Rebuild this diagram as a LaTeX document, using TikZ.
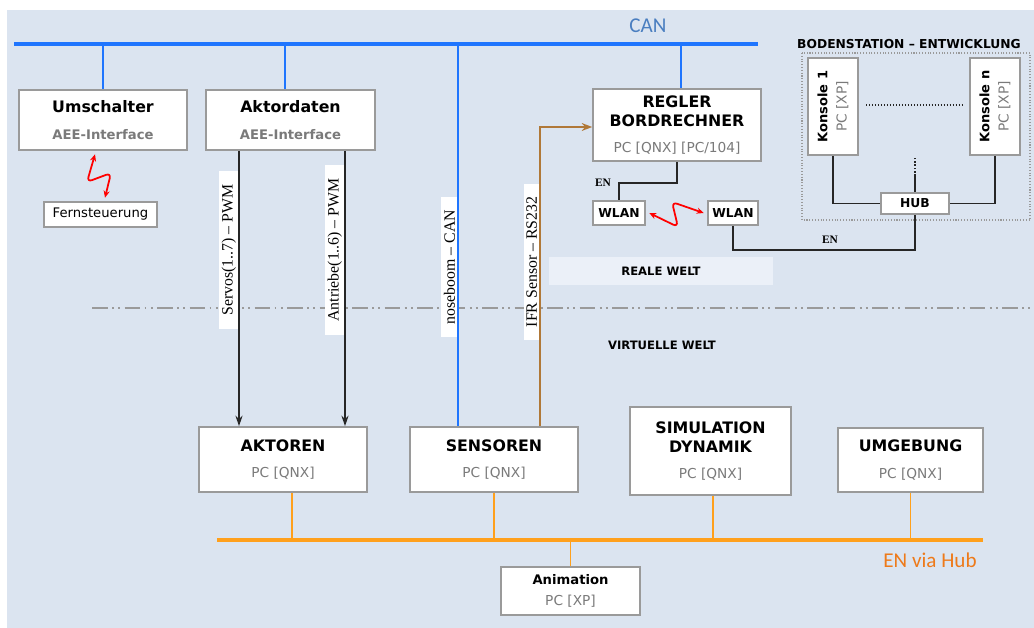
\documentclass[tikz,border=0pt]{standalone}
\usepackage{fontspec}
\setmainfont{DejaVu Sans}
\newfontfamily\wirefont{Liberation Serif}
\newfontfamily\busfont{Carlito}
\usetikzlibrary{arrows.meta}

\definecolor{bgblue}{HTML}{DBE4F0}
\definecolor{bandblue}{HTML}{EBF0F8}
\definecolor{canblue}{HTML}{1F75FE}
\definecolor{cantext}{HTML}{4A7EC0}
\definecolor{enorange}{HTML}{FFA01C}
\definecolor{entext}{HTML}{EE7A1A}
\definecolor{rsbrown}{HTML}{B07838}
\definecolor{boxgray}{HTML}{9A9A9A}
\definecolor{subgray}{HTML}{7A7A7A}

% grey second line inside the boxes
\newcommand{\pcline}[1]{{\mdseries\color{subgray}\fontsize{7.8}{9}\selectfont #1}}
\newcommand{\aeeline}[1]{{\color{subgray}\fontsize{7.5}{9}\selectfont #1}}

\begin{document}
\begin{tikzpicture}[x=0.02cm,y=-0.02cm]
\tikzset{
	box/.style={draw=boxgray,
		fill=white,
		line width=0.9pt,
		inner sep=0pt,
		align=center,
		font=\bfseries\fontsize{9}{11}\selectfont},
	smallbox/.style={box, font=\bfseries\fontsize{7}{9}\selectfont},
	wirelabel/.style={fill=white, rotate=90, anchor=south,
		inner xsep=7.5pt, inner ysep=1.5pt,
		font=\wirefont\fontsize{9}{10}\selectfont},
	canline/.style={draw=canblue, line width=1.2pt},
	canbus/.style={draw=canblue, line width=2.8pt},
	enline/.style={draw=enorange, line width=1pt},
	enbus/.style={draw=enorange, line width=2.8pt},
	wire/.style={draw=black!85, line width=0.9pt},
	sigarrow/.style={wire, -{Stealth[length=6pt,width=4pt]}},
	radio/.style={draw=red, line width=1pt, rounded corners=3pt,
		{Stealth[length=4pt,width=3.5pt]}-{Stealth[length=4pt,width=3.5pt]}},
	enlabel/.style={font=\wirefont\bfseries\fontsize{6.5}{8}\selectfont},
	worldlabel/.style={font=\bfseries\fontsize{6.6}{8}\selectfont}
}

\useasboundingbox (0,0) rectangle (1034,628);
\fill[bgblue] (7,10) rectangle (1034,628);

% border between real and virtual world
\draw[boxgray, line width=0.9pt, dash pattern=on 9pt off 2.5pt on 1pt off 2.5pt on 1pt off 2.5pt] (92,308) -- (1034,308);
\node[fill=bandblue, minimum width=4.48cm, minimum height=0.56cm, worldlabel] (reale) at (661,271) {REALE WELT};
\node[worldlabel] (virtuell) at (662,345) {VIRTUELLE WELT};

% CAN bus
\coordinate (canL) at (14,44);
\coordinate (canR) at (758,44);
\draw[canbus] (canL) -- (canR);
\node[font=\busfont\fontsize{12}{14}\selectfont, text=cantext] (canlbl) at (648,26) {CAN};

% EN bus
\coordinate (enL) at (217,540);
\coordinate (enR) at (983,540);
\draw[enbus] (enL) -- (enR);
\node[font=\busfont\fontsize{12}{14}\selectfont, text=entext] (enlbl) at (930,560) {EN via Hub};

% labels on the vertical wires
\node[wirelabel] (servolbl) at (239,250) {Servos(1..7) – PWM};
\node[wirelabel] (antrieblbl) at (345,250) {Antriebe(1..6) – PWM};
\node[wirelabel] (noselbl) at (458,267) {noseboom – CAN};
\node[wirelabel] (ifrlbl) at (540,262) {IFR Sensor – RS232};

% CAN drops
\draw[canline] (103,44) -- (103,92);
\draw[canline] (285,44) -- (285,92);
\draw[canline] (681,44) -- (681,91);
\draw[canline] (458,44) -- (458,429);

% boxes on board
\node[box, minimum width=3.36cm, minimum height=1.2cm] (umschalter) at (103,120) {Umschalter\\[4pt]\aeeline{AEE-Interface}};
\node[box, minimum width=3.38cm, minimum height=1.2cm] (aktordaten) at (290.5,120) {Aktordaten\\[4pt]\aeeline{AEE-Interface}};
\node[box, font=\fontsize{7.5}{9}\selectfont, minimum width=2.26cm, minimum height=0.5cm] (fernst) at (100.5,214.5) {Fernsteuerung};
\node[box, minimum width=3.36cm, minimum height=1.44cm] (regler) at (677,125) {REGLER\\BORDRECHNER\\[4pt]\pcline{PC [QNX] [PC/104]}};
\node[smallbox, minimum width=1.04cm, minimum height=0.48cm] (wlanA) at (619,213) {WLAN};
\node[smallbox, minimum width=1.0cm, minimum height=0.48cm] (wlanB) at (733,213) {WLAN};

% ground station
\draw[boxgray, densely dotted, line width=0.6pt] (802,53) rectangle (1030,220);
\node[font=\bfseries\fontsize{7}{9}\selectfont] (bodenlbl) at (909,44) {BODENSTATION – ENTWICKLUNG};
\node[box, rotate=90, font=\bfseries\fontsize{7.4}{11}\selectfont, minimum width=1.94cm, minimum height=1.0cm] (konsoleA) at (833,106.5) {Konsole 1\\\pcline{PC [XP]}};
\node[box, rotate=90, font=\bfseries\fontsize{7.4}{11}\selectfont, minimum width=1.94cm, minimum height=1.0cm] (konsoleN) at (995,106.5) {Konsole n\\\pcline{PC [XP]}};
\node[smallbox, minimum width=1.36cm, minimum height=0.42cm] (hub) at (915,203.5) {HUB};

% boxes of the simulation
\node[box, minimum width=3.36cm, minimum height=1.3cm] (aktoren) at (283,459.5) {AKTOREN\\[4pt]\pcline{PC [QNX]}};
\node[box, minimum width=3.36cm, minimum height=1.3cm] (sensoren) at (494,459.5) {SENSOREN\\[4pt]\pcline{PC [QNX]}};
\node[box, minimum width=3.22cm, minimum height=1.76cm] (simulation) at (710.5,451) {SIMULATION\\DYNAMIK\\[4pt]\pcline{PC [QNX]}};
\node[box, minimum width=2.9cm, minimum height=1.28cm] (umgebung) at (910.5,460) {UMGEBUNG\\[4pt]\pcline{PC [QNX]}};
\node[box, font=\bfseries\fontsize{7.5}{9}\selectfont, minimum width=2.78cm, minimum height=0.96cm] (animation) at (570.5,591) {Animation\\[3pt]\pcline{PC [XP]}};

% signals to the actuators and from the sensor
\draw[sigarrow] (aktordaten.south -| 239,0) -- (aktoren.north -| 239,0);
\draw[sigarrow] (aktordaten.south -| 345,0) -- (aktoren.north -| 345,0);
\draw[draw=rsbrown, line width=1.2pt, -{Stealth[length=6pt,width=4.5pt]}] (sensoren.north -| 540,0) |- (regler.west |- 0,127);

% EN on board and to the ground station
\draw[wire] (regler.south) -- ++(0,21) -| (wlanA.north);
\node[enlabel] (enA) at (603,183) {EN};
\draw[wire] (wlanB.south) -- ++(0,24) -| (hub.south);
\node[enlabel] (enB) at (830,240) {EN};
\draw[wire] (konsoleA.west) |- (hub.west);
\draw[wire] (konsoleN.west) |- (hub.east);
\draw[wire] (hub.north) -- (915,176);
\draw[black!85, line width=0.9pt, densely dotted] (915,176) -- (915,157);
\draw[black!85, line width=0.7pt, densely dotted] (866,105) -- (962,105);

% radio links
\draw[radio] ([yshift=-2pt]umschalter.south -| 95,0) -- (87,182) -- (111,173) -- ([yshift=2pt]fernst.north -| 105,0);
\draw[radio] ([xshift=2pt]wlanA.east) -- (678,227) -- (672,202) -- ([xshift=-2pt]wlanB.west);

% EN drops
\draw[enline] (aktoren.south -| 292,0) -- (292,540);
\draw[enline] (sensoren.south) -- (sensoren.south |- enL);
\draw[enline] (simulation.south -| 713,0) -- (713,540);
\draw[enline] (umgebung.south) -- (umgebung.south |- enL);
\draw[enline] (animation.north) -- (animation.north |- enL);
\end{tikzpicture}
\end{document}
